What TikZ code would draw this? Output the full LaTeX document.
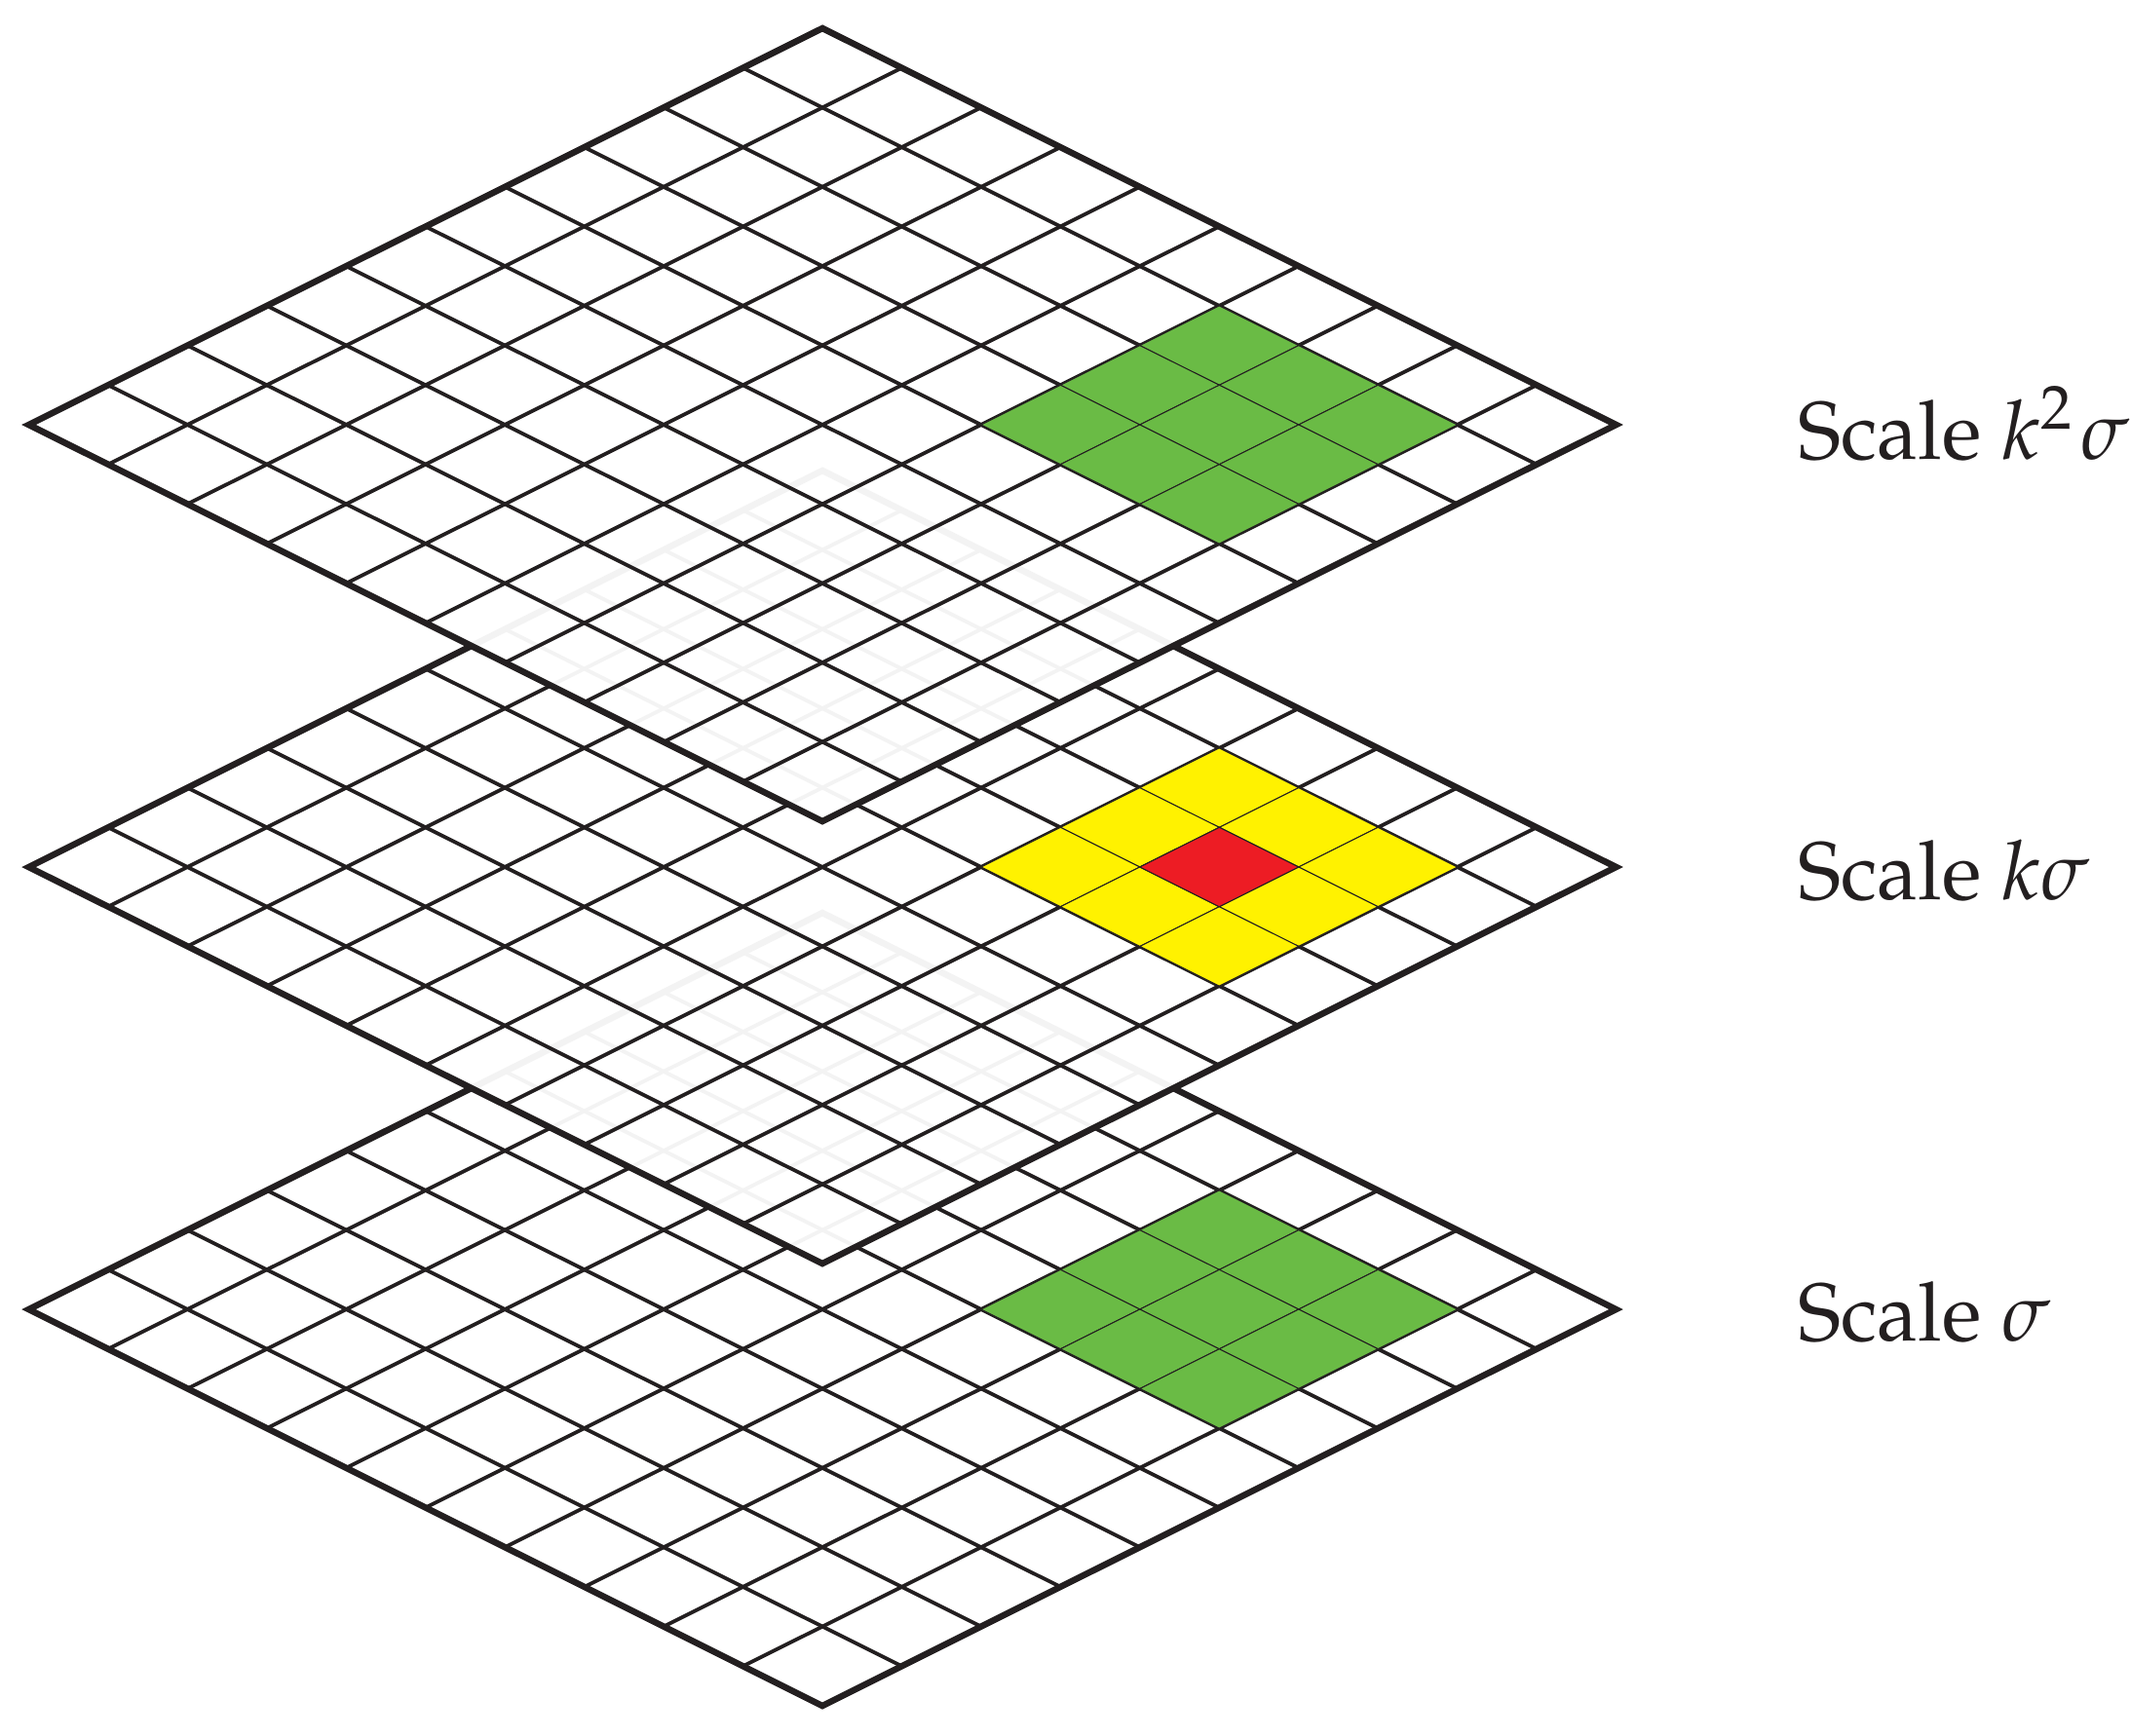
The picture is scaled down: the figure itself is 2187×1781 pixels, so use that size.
\documentclass[tikz,border=0pt]{standalone}
\usepackage[T1]{fontenc}
\usepackage{mathpazo}
\definecolor{ink}{HTML}{231F20}
\definecolor{cellgreen}{HTML}{6ABB45}
\definecolor{cellyellow}{HTML}{FFF200}
\definecolor{cellred}{HTML}{ED1C24}
\tikzset{
  gridline/.style={line width=3.8pt, draw=ink},
  sheetborder/.style={line width=6.5pt, draw=ink, line join=miter},
  cellline/.style={line width=1pt, draw=ink},
  sheetfill/.style={fill=white, fill opacity=0.95},
  scaletext/.style={anchor=base west, inner sep=0pt, text=ink, font=\fontsize{84}{100}\selectfont},
}
\newcommand\drawsheet[2]{%
  \begin{scope}[shift={(844,#1)}, x={(81.45pt,-40.7pt)}, y={(-81.45pt,-40.7pt)}]
    \fill[sheetfill] (0,0) -- (10,0) -- (10,10) -- (0,10) -- cycle;
    \foreach \i in {1,...,9} {
      \draw[gridline] (\i,0) -- (\i,10);
      \draw[gridline] (0,\i) -- (10,\i);
    }
    #2
    \draw[sheetborder] (0,0) -- (10,0) -- (10,10) -- (0,10) -- cycle;
  \end{scope}}
\newcommand\greenblock{%
  \foreach \a in {6,7,8} \foreach \b in {1,2,3}
    \filldraw[fill=cellgreen, cellline] (\a,\b) -- ++(1,0) -- ++(0,1) -- ++(-1,0) -- cycle;}
\newcommand\yellowblock{%
  \foreach \a in {6,7,8} \foreach \b in {1,2,3}
    \filldraw[fill=cellyellow, cellline] (\a,\b) -- ++(1,0) -- ++(0,1) -- ++(-1,0) -- cycle;
  \filldraw[fill=cellred, cellline] (7,2) -- ++(1,0) -- ++(0,1) -- ++(-1,0) -- cycle;}
\begin{document}
\begin{tikzpicture}[x=1pt, y=-1pt]
  \useasboundingbox (0,0) rectangle (2187,1781);
  \drawsheet{937}{\greenblock}
  \drawsheet{483}{\yellowblock}
  \drawsheet{29}{\greenblock}
  \node[scaletext] (top) at (1845,471) {Scale $k^2\mkern2mu\sigma$};
  \node[scaletext] (mid) at (1845,923) {Scale $k\sigma$};
  \node[scaletext] (bot) at (1845,1376) {Scale $\sigma$};
\end{tikzpicture}
\end{document}
